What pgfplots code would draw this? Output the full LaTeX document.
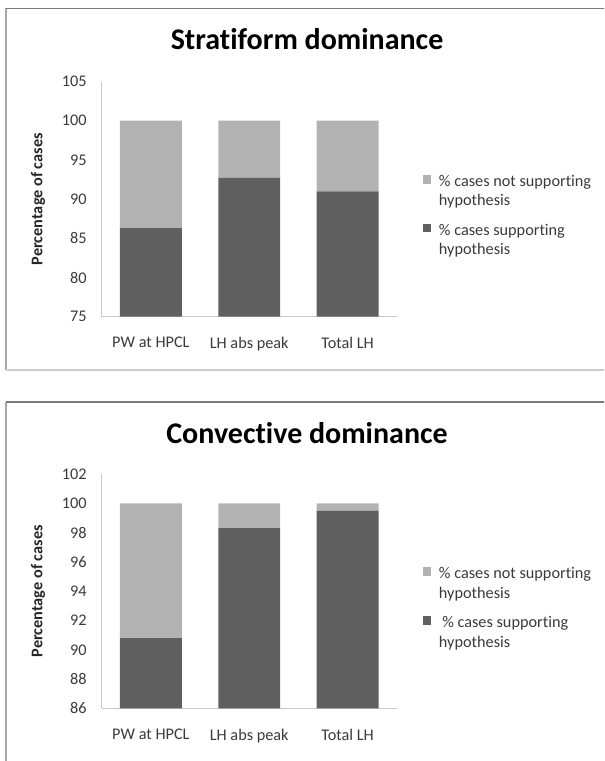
\documentclass[border=0pt]{standalone}
\usepackage{fontspec}
\setmainfont{Carlito}[Ligatures=NoCommon]
\usepackage{pgfplots}
\pgfplotsset{compat=1.18}

\definecolor{supp}{RGB}{95,95,95}
\definecolor{nsupp}{RGB}{178,178,178}
\definecolor{axline}{RGB}{200,200,200}
\definecolor{frametop}{RGB}{122,122,122}
\definecolor{frameside}{RGB}{168,168,168}
\definecolor{framebot}{RGB}{205,205,205}
\definecolor{lbl}{RGB}{58,58,58}

\newcommand{\lblfont}{\fontsize{12.2}{14.6}\selectfont}
\newcommand{\ttlfont}{\bfseries\fontsize{22.5}{27}\selectfont}

\pgfplotsset{
  panel/.style={
    scale only axis,
    width=221.25pt,
    anchor=south west,
    ybar stacked,
    bar width=0.63,
    xmin=-0.5, xmax=2.5,
    xtick={0,1,2},
    xticklabels={PW at HPCL, LH abs peak, Total LH},
    axis x line=bottom,
    axis y line=left,
    axis line style={draw=axline, line width=0.9pt, -},
    tick style={draw=none},
    major tick length=0pt,
    tick label style={font=\lblfont, text=lbl},
    /pgf/number format/assume math mode=true,
    yticklabel style={xshift=-7.8pt},
    xticklabel style={yshift=-11.7pt},
    ylabel={Percentage of cases},
    ylabel style={font=\bfseries\lblfont, text=black!85,
      at={(axis description cs:-0.216,0.5)}, anchor=center},
    legend style={draw=none, fill=none, inner sep=0pt,
      at={(axis description cs:1.088,0.615)}, anchor=north west,
      font=\lblfont, text=lbl, row sep=8pt, column sep=0pt,
      cells={anchor=north west, align=left, inner sep=0pt}},
    legend image code/.code={
      \fill[##1] (0pt,-8.4pt) rectangle (6.3pt,-2.1pt);
      \path (10pt,-5pt);
    },
    reverse legend,
  },
}

\begin{document}
\begin{tikzpicture}
\useasboundingbox (0,0) rectangle (453pt,570.75pt);
\clip (0,0) rectangle (453pt,570.75pt);

% chart area borders
\draw[frameside, line width=0.9pt] (4.5pt,293.25pt) -- (4.5pt,564.5pt);
\draw[framebot, line width=0.9pt] (4.5pt,293.25pt) -- (470pt,293.25pt);
\draw[frametop, line width=1.1pt] (4.5pt,564.5pt) -- (470pt,564.5pt);
\draw[frameside, line width=0.9pt] (4.5pt,-10pt) -- (4.5pt,269.25pt);
\draw[frametop, line width=1.1pt] (4.5pt,269.25pt) -- (470pt,269.25pt);

% Stratiform dominance
\begin{axis}[panel,
  at={(76.3pt,333.2pt)}, height=176.4pt,
  ymin=75, ymax=105, ytick={75,80,85,90,95,100,105},
  after end axis/.code={
    \node[font=\ttlfont] at (axis description cs:0.696,1.182)
      {Stratiform dominance};
  }]
  \addplot[fill=supp, draw=none] coordinates {(0,86.3) (1,92.7) (2,91.0)};
  \addlegendentry{\% cases supporting\\hypothesis}
  \addplot[fill=nsupp, draw=none] coordinates {(0,13.7) (1,7.3) (2,9.0)};
  \addlegendentry{\% cases not supporting\\hypothesis}
\end{axis}

% Convective dominance
\begin{axis}[panel,
  at={(76.3pt,39.45pt)}, height=175.8pt,
  ymin=86, ymax=102, ytick={86,88,90,92,94,96,98,100,102},
  after end axis/.code={
    \node[font=\ttlfont] at (axis description cs:0.696,1.174)
      {Convective dominance};
  }]
  \addplot[fill=supp, draw=none] coordinates {(0,90.8) (1,98.3) (2,99.5)};
  \addlegendentry{\hspace{2.5pt}\% cases supporting\\hypothesis}
  \addplot[fill=nsupp, draw=none] coordinates {(0,9.2) (1,1.7) (2,0.5)};
  \addlegendentry{\% cases not supporting\\hypothesis}
\end{axis}
\end{tikzpicture}
\end{document}
